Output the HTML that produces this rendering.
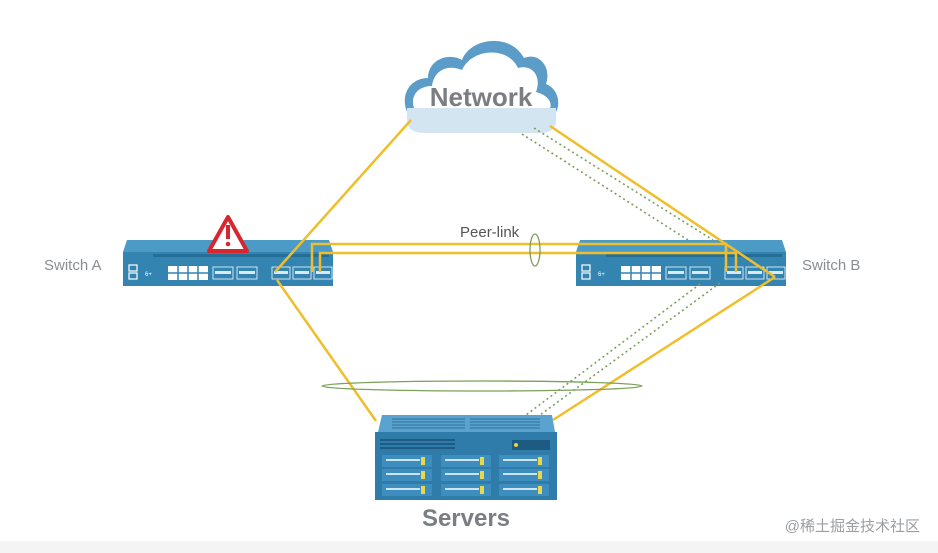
<!DOCTYPE html>
<html><head><meta charset="utf-8"><style>
html,body{margin:0;padding:0;background:#fff;}
svg{display:block;font-family:"Liberation Sans","Noto Sans CJK SC",sans-serif;}
</style></head><body>
<svg width="938" height="553" viewBox="0 0 938 553" xmlns="http://www.w3.org/2000/svg">
<defs>
<g id="sw">
  <path d="M4 0 H206 L210 12 H0 Z" fill="#4b9bc6"/>
  <rect x="0" y="12" width="210" height="34" fill="#3384b1"/>
  <rect x="30" y="14" width="176" height="3" fill="#1d5f86" opacity="0.6"/>
  <rect x="6" y="25" width="8" height="6" fill="none" stroke="#fff" stroke-width="1.2"/>
  <rect x="6" y="33" width="8" height="6" fill="none" stroke="#fff" stroke-width="1.2"/>
  <text x="22" y="36" font-size="6" fill="#fff">6+</text>
  <rect x="45" y="26" width="40" height="14" fill="#fff"/>
  <path d="M55 26V40M65 26V40M75 26V40M45 33H85" stroke="#3384b1" stroke-width="1.5"/>
  <g fill="none" stroke="#cfe3ef" stroke-width="1"><rect x="90" y="27" width="20" height="12"/><rect x="114" y="27" width="20" height="12"/><rect x="149" y="27" width="18" height="12"/><rect x="170" y="27" width="18" height="12"/><rect x="191" y="27" width="18" height="12"/></g>
  <g fill="#dbe9f2"><rect x="92" y="31" width="16" height="3"/><rect x="116" y="31" width="16" height="3"/><rect x="151" y="31" width="14" height="3"/><rect x="172" y="31" width="14" height="3"/><rect x="193" y="31" width="14" height="3"/></g>
</g>
</defs>

<!-- cloud -->
<path d="M407 112 C400 95 410 78 428 78 C428 60 448 52 462 60 C470 38 510 32 524 58 C538 52 552 66 546 84 C560 90 560 106 556 112 Z" fill="#5b9dc8"/>
<path d="M414 108 C410 96 418 86 432 86 C434 70 448 64 462 70 C472 48 508 46 518 68 C532 64 542 76 536 92 C550 96 552 104 550 108 Z" fill="#fff"/>
<path d="M407 108 H556 V120 Q556 133 540 133 H425 Q407 133 407 120 Z" fill="#d3e5f1"/>
<text x="481" y="106" font-size="26" font-weight="bold" fill="#7a7e82" text-anchor="middle">Network</text>

<!-- switches -->
<use href="#sw" x="123" y="240"/>
<use href="#sw" x="576" y="240"/>

<!-- connectors -->
<g stroke="#f0be2a" stroke-width="2.5" fill="none">
  <line x1="411" y1="120" x2="275" y2="272"/>
  <line x1="277" y1="280" x2="376" y2="421"/>
  <line x1="550" y1="126" x2="775" y2="277"/>
  <line x1="775" y1="277" x2="553" y2="420"/>
  <path d="M312 272 V244 H726 V272"/>
  <path d="M320 272 V253 H736 V272"/>
</g>
<g stroke="#7aa05a" stroke-width="1.6" stroke-dasharray="2 3" fill="none">
  <line x1="522" y1="134" x2="688" y2="240"/>
  <line x1="534" y1="128" x2="713" y2="240"/>
  <line x1="700" y1="284" x2="526" y2="415"/>
  <line x1="720" y1="283" x2="540" y2="415"/>
</g>
<ellipse cx="535" cy="250" rx="5" ry="16" fill="none" stroke="#7aa05a" stroke-width="1.3"/>
<ellipse cx="482" cy="386" rx="160" ry="5" fill="none" stroke="#7aa05a" stroke-width="1.3"/>

<!-- warning -->
<path d="M228 217 L247 251 H209 Z" fill="#fff" stroke="#d9252e" stroke-width="4" stroke-linejoin="round"/>
<rect x="226" y="225" width="4" height="14" fill="#d9252e"/>
<circle cx="228" cy="244" r="2.3" fill="#d9252e"/>

<text x="44" y="270" font-size="15" fill="#8a8e92">Switch A</text>
<text x="802" y="270" font-size="15" fill="#8a8e92">Switch B</text>
<text x="460" y="237" font-size="15" fill="#555">Peer-link</text>

<!-- server -->
<path d="M382 415 H552 L555 432 H378 Z" fill="#5aa2cf"/>
<g stroke="#2d6f99" stroke-width="1"><path d="M392 419H465M392 422H465M392 425H465M392 428H465M470 419H540M470 422H540M470 425H540M470 428H540"/></g>
<rect x="375" y="432" width="182" height="68" fill="#2f7cab"/>
<g fill="#1e5b82"><rect x="380" y="439" width="75" height="2"/><rect x="380" y="443" width="75" height="2"/><rect x="380" y="447" width="75" height="2"/></g>
<rect x="512" y="440" width="38" height="10" fill="#1e5b82"/><circle cx="516" cy="445" r="2" fill="#f0d040"/>
<g fill="#3d8dbf">
<rect x="382" y="455" width="50" height="12"/><rect x="441" y="455" width="50" height="12"/><rect x="499" y="455" width="50" height="12"/>
<rect x="382" y="469" width="50" height="12"/><rect x="441" y="469" width="50" height="12"/><rect x="499" y="469" width="50" height="12"/>
<rect x="382" y="484" width="50" height="12"/><rect x="441" y="484" width="50" height="12"/><rect x="499" y="484" width="50" height="12"/>
</g>
<g fill="#cfe4f1">
<rect x="386" y="459" width="34" height="2"/><rect x="445" y="459" width="34" height="2"/><rect x="503" y="459" width="34" height="2"/>
<rect x="386" y="473" width="34" height="2"/><rect x="445" y="473" width="34" height="2"/><rect x="503" y="473" width="34" height="2"/>
<rect x="386" y="488" width="34" height="2"/><rect x="445" y="488" width="34" height="2"/><rect x="503" y="488" width="34" height="2"/>
</g>
<g fill="#e8d84a">
<rect x="421" y="457" width="4" height="8"/><rect x="480" y="457" width="4" height="8"/><rect x="538" y="457" width="4" height="8"/>
<rect x="421" y="471" width="4" height="8"/><rect x="480" y="471" width="4" height="8"/><rect x="538" y="471" width="4" height="8"/>
<rect x="421" y="486" width="4" height="8"/><rect x="480" y="486" width="4" height="8"/><rect x="538" y="486" width="4" height="8"/>
</g>
<text x="466" y="526" font-size="24" font-weight="bold" fill="#7a7e82" text-anchor="middle">Servers</text>
<rect x="0" y="541" width="938" height="12" fill="#f4f4f4"/>
<text x="920" y="531" font-size="15" fill="#9a9ea2" text-anchor="end">@稀土掘金技术社区</text>
</svg>
</body></html>
